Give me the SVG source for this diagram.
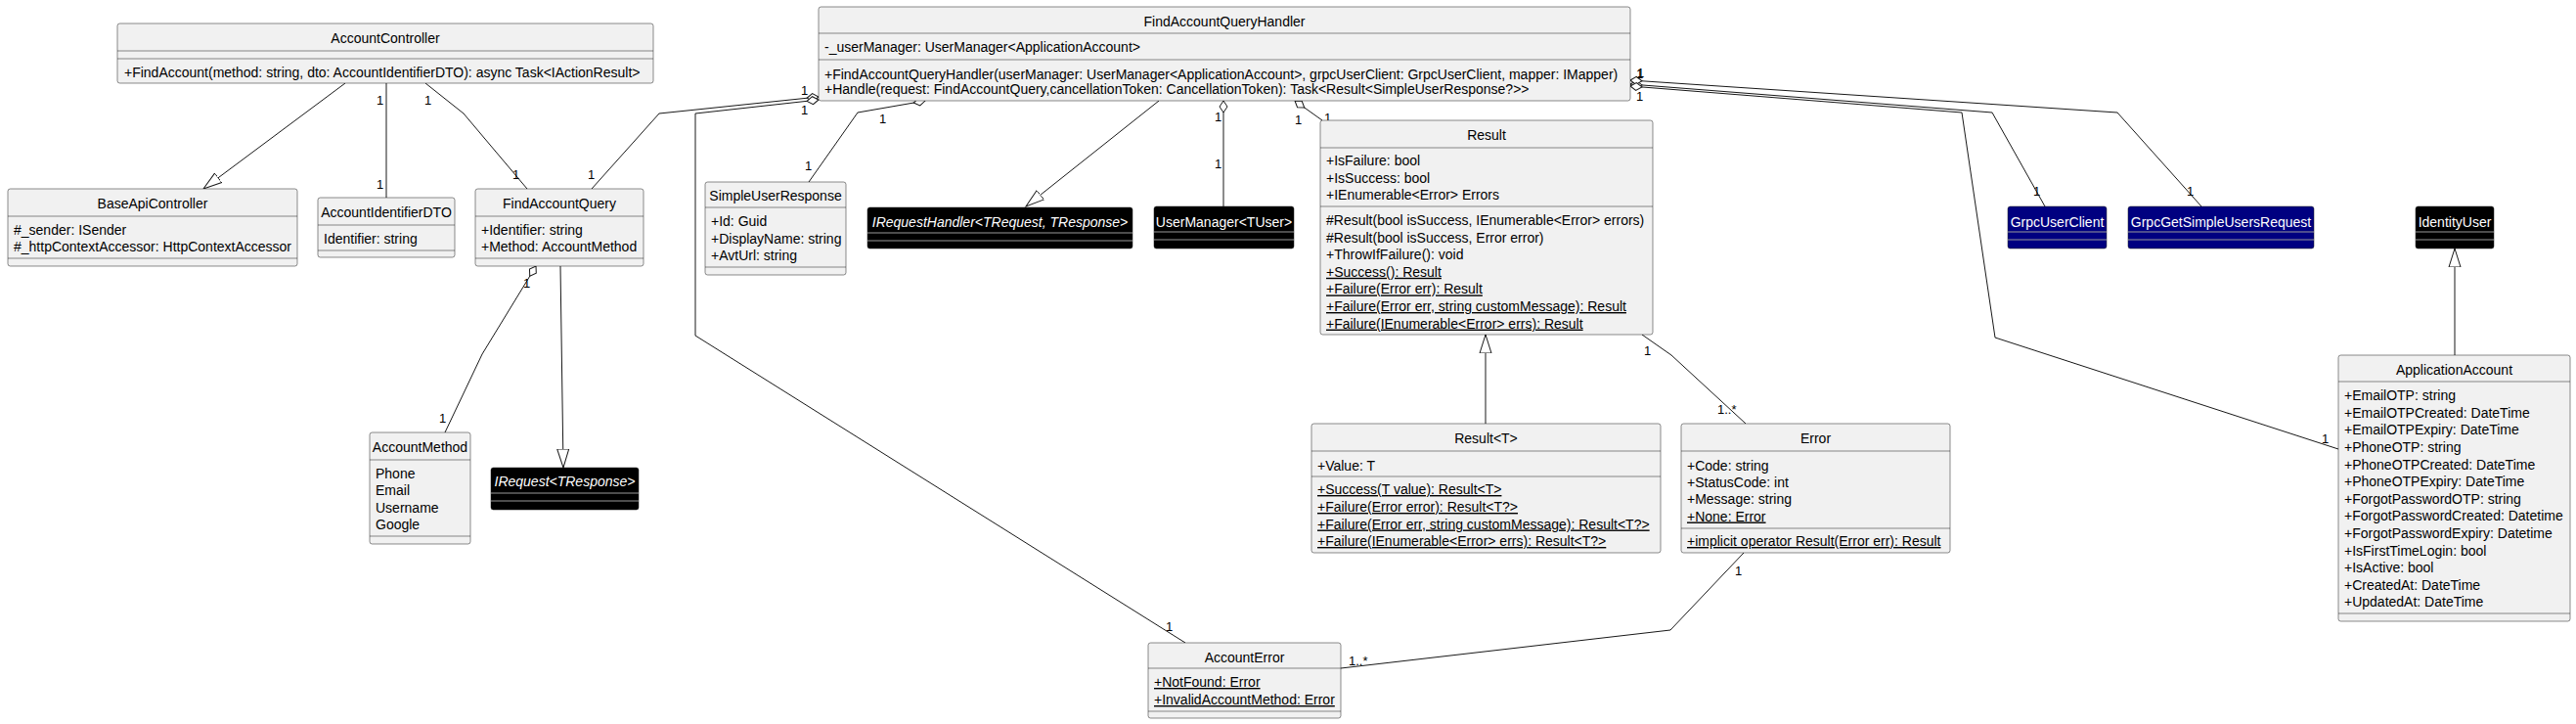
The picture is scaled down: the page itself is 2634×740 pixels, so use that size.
<svg xmlns="http://www.w3.org/2000/svg" width="2634" height="740" viewBox="0 0 2634 740">
<style>
text{font-family:"Liberation Sans",Arial,sans-serif;font-size:14px;fill:#000000}
.t{text-anchor:middle}
.w{fill:#FFFFFF}
.i{font-style:italic}
.u{text-decoration:underline}
.lb{font-size:13px}
.box{fill:#F1F1F1;stroke:#181818;stroke-width:0.5}
.dk{fill:#000000;stroke:#181818;stroke-width:0.5}
.bl{fill:#000080;stroke:#181818;stroke-width:0.5}
.sep{stroke:#181818;stroke-width:0.5}
.sepd{stroke:#999999;stroke-width:1}
.c{fill:none;stroke:#181818;stroke-width:1}
</style>
<defs>
<marker id="tri" markerUnits="userSpaceOnUse" markerWidth="22" markerHeight="16" refX="19" refY="7" orient="auto" viewBox="0 0 22 16">
<path d="M0,1 L19,7 L0,13 Z" fill="#FFFFFF" stroke="#181818" stroke-width="1"/>
</marker>
<marker id="dia" markerUnits="userSpaceOnUse" markerWidth="16" markerHeight="12" refX="1" refY="6" orient="auto" viewBox="0 0 16 12">
<path d="M1,6 L7,2 L13,6 L7,10 Z" fill="#FFFFFF" stroke="#181818" stroke-width="1"/>
</marker>
</defs>
<rect width="2634" height="740" fill="#FFFFFF"/>

<g id="connectors">
<path class="c" d="M353,85 L208,193" marker-end="url(#tri)"/>
<path class="c" d="M395,85 L395,202"/>
<path class="c" d="M435,85 L474,116 L539,193"/>
<path class="c" d="M837,99 L674,116 L605,193" marker-start="url(#dia)"/>
<path class="c" d="M837,102 L711,116 L711,343 L1212,657" marker-start="url(#dia)"/>
<path class="c" d="M946,103 L877,115 L827,186" marker-start="url(#dia)"/>
<path class="c" d="M1185,103 L1049,211" marker-end="url(#tri)"/>
<path class="c" d="M1251,103 L1251,211" marker-start="url(#dia)"/>
<path class="c" d="M1324,103 L1352,123" marker-start="url(#dia)"/>
<path class="c" d="M1667,86 L2037,115 L2091,211" marker-start="url(#dia)"/>
<path class="c" d="M1667,82 L2165,115 L2251,211" marker-start="url(#dia)"/>
<path class="c" d="M1667,88 L2006,115 L2040,345 L2391,459" marker-start="url(#dia)"/>
<path class="c" d="M548,272 L493,362 L455,442" marker-start="url(#dia)"/>
<path class="c" d="M573,272 L576,478" marker-end="url(#tri)"/>
<path class="c" d="M1519,433 L1519,342" marker-end="url(#tri)"/>
<path class="c" d="M1679,342 L1709,363 L1785,433"/>
<path class="c" d="M1371,683 L1708,644 L1783,565"/>
<path class="c" d="M2510,363 L2510,254" marker-end="url(#tri)"/>
<text class="lb" x="385" y="107">1</text>
<text class="lb" x="385" y="193">1</text>
<text class="lb" x="434" y="107">1</text>
<text class="lb" x="524" y="183">1</text>
<text class="lb" x="819" y="97">1</text>
<text class="lb" x="601" y="183">1</text>
<text class="lb" x="819" y="117">1</text>
<text class="lb" x="1192" y="645">1</text>
<text class="lb" x="899" y="126">1</text>
<text class="lb" x="823" y="174">1</text>
<text class="lb" x="1242" y="124">1</text>
<text class="lb" x="1242" y="172">1</text>
<text class="lb" x="1324" y="127">1</text>
<text class="lb" x="1354" y="125">1</text>
<text class="lb" x="1673" y="80">1</text>
<text class="lb" x="1674" y="79">1</text>
<text class="lb" x="1673" y="103">1</text>
<text class="lb" x="2079" y="200">1</text>
<text class="lb" x="2236" y="200">1</text>
<text class="lb" x="2374" y="453">1</text>
<text class="lb" x="535" y="294">1</text>
<text class="lb" x="449" y="432">1</text>
<text class="lb" x="1681" y="363">1</text>
<text class="lb" x="1756" y="423">1..*</text>
<text class="lb" x="1379" y="680">1..*</text>
<text class="lb" x="1774" y="588">1</text>
</g>

<g id="AccountController">
<rect class="box" x="120" y="24" width="548" height="61" rx="2.5"/>
<text class="t" x="394" y="44">AccountController</text>
<line class="sep" x1="120" y1="52" x2="668" y2="52"/>
<line class="sep" x1="120" y1="60" x2="668" y2="60"/>
<text x="127" y="79">+FindAccount(method: string, dto: AccountIdentifierDTO): async Task&lt;IActionResult&gt;</text>
</g>

<g id="BaseApiController">
<rect class="box" x="8" y="193" width="296" height="79" rx="2.5"/>
<text class="t" x="156" y="213">BaseApiController</text>
<line class="sep" x1="8" y1="221" x2="304" y2="221"/>
<text x="14" y="240">#_sender: ISender</text>
<text x="14" y="257">#_httpContextAccessor: HttpContextAccessor</text>
<line class="sep" x1="8" y1="264" x2="304" y2="264"/>
</g>

<g id="AccountIdentifierDTO">
<rect class="box" x="325" y="202" width="140" height="61" rx="2.5"/>
<text class="t" x="395" y="222">AccountIdentifierDTO</text>
<line class="sep" x1="325" y1="230" x2="465" y2="230"/>
<text x="331" y="249">Identifier: string</text>
<line class="sep" x1="325" y1="256" x2="465" y2="256"/>
</g>

<g id="FindAccountQuery">
<rect class="box" x="486" y="193" width="172" height="79" rx="2.5"/>
<text class="t" x="572" y="213">FindAccountQuery</text>
<line class="sep" x1="486" y1="221" x2="658" y2="221"/>
<text x="492" y="240">+Identifier: string</text>
<text x="492" y="257">+Method: AccountMethod</text>
<line class="sep" x1="486" y1="264" x2="658" y2="264"/>
</g>

<g id="FindAccountQueryHandler">
<rect class="box" x="837" y="7" width="830" height="96" rx="2.5"/>
<text class="t" x="1252" y="27">FindAccountQueryHandler</text>
<line class="sep" x1="837" y1="34" x2="1667" y2="34"/>
<text x="843" y="53">-_userManager: UserManager&lt;ApplicationAccount&gt;</text>
<line class="sep" x1="837" y1="61" x2="1667" y2="61"/>
<text x="843" y="81">+FindAccountQueryHandler(userManager: UserManager&lt;ApplicationAccount&gt;, grpcUserClient: GrpcUserClient, mapper: IMapper)</text>
<text x="843" y="96">+Handle(request: FindAccountQuery,cancellationToken: CancellationToken): Task&lt;Result&lt;SimpleUserResponse?&gt;&gt;</text>
</g>

<g id="SimpleUserResponse">
<rect class="box" x="721" y="186" width="144" height="95" rx="2.5"/>
<text class="t" x="793" y="205">SimpleUserResponse</text>
<line class="sep" x1="721" y1="212" x2="865" y2="212"/>
<text x="727" y="231">+Id: Guid</text>
<text x="727" y="249">+DisplayName: string</text>
<text x="727" y="266">+AvtUrl: string</text>
<line class="sep" x1="721" y1="273" x2="865" y2="273"/>
</g>

<g id="IRequestHandler">
<rect class="dk" x="887" y="212" width="271" height="42" rx="2.5"/>
<text class="t w i" x="1022.5" y="232">IRequestHandler&lt;TRequest, TResponse&gt;</text>
<line class="sepd" x1="887" y1="238" x2="1158" y2="238"/>
<line class="sepd" x1="887" y1="246" x2="1158" y2="246"/>
</g>

<g id="UserManager">
<rect class="dk" x="1180" y="211" width="143" height="43" rx="2.5"/>
<text class="t w" x="1251.5" y="232">UserManager&lt;TUser&gt;</text>
<line class="sepd" x1="1180" y1="237" x2="1323" y2="237"/>
<line class="sepd" x1="1180" y1="245" x2="1323" y2="245"/>
</g>

<g id="Result">
<rect class="box" x="1350" y="123" width="340" height="219" rx="2.5"/>
<text class="t" x="1520" y="143">Result</text>
<line class="sep" x1="1350" y1="151" x2="1690" y2="151"/>
<text x="1356" y="169">+IsFailure: bool</text>
<text x="1356" y="186.5">+IsSuccess: bool</text>
<text x="1356" y="204">+IEnumerable&lt;Error&gt; Errors</text>
<line class="sep" x1="1350" y1="211" x2="1690" y2="211"/>
<text x="1356" y="230">#Result(bool isSuccess, IEnumerable&lt;Error&gt; errors)</text>
<text x="1356" y="247.6">#Result(bool isSuccess, Error error)</text>
<text x="1356" y="265.2">+ThrowIfFailure(): void</text>
<text class="u" x="1356" y="282.8">+Success(): Result</text>
<text class="u" x="1356" y="300.4">+Failure(Error err): Result</text>
<text class="u" x="1356" y="318">+Failure(Error err, string customMessage): Result</text>
<text class="u" x="1356" y="335.6">+Failure(IEnumerable&lt;Error&gt; errs): Result</text>
</g>

<g id="ResultT">
<rect class="box" x="1341" y="433" width="357" height="132" rx="2.5"/>
<text class="t" x="1519.5" y="453">Result&lt;T&gt;</text>
<line class="sep" x1="1341" y1="461" x2="1698" y2="461"/>
<text x="1347" y="481">+Value: T</text>
<line class="sep" x1="1341" y1="487" x2="1698" y2="487"/>
<text class="u" x="1347" y="505">+Success(T value): Result&lt;T&gt;</text>
<text class="u" x="1347" y="523">+Failure(Error error): Result&lt;T?&gt;</text>
<text class="u" x="1347" y="540.5">+Failure(Error err, string customMessage): Result&lt;T?&gt;</text>
<text class="u" x="1347" y="558">+Failure(IEnumerable&lt;Error&gt; errs): Result&lt;T?&gt;</text>
</g>

<g id="Error">
<rect class="box" x="1719" y="433" width="275" height="132" rx="2.5"/>
<text class="t" x="1856.5" y="453">Error</text>
<line class="sep" x1="1719" y1="461" x2="1994" y2="461"/>
<text x="1725" y="481">+Code: string</text>
<text x="1725" y="497.5">+StatusCode: int</text>
<text x="1725" y="515">+Message: string</text>
<text class="u" x="1725" y="532.5">+None: Error</text>
<line class="sep" x1="1719" y1="540" x2="1994" y2="540"/>
<text class="u" x="1725" y="558">+implicit operator Result(Error err): Result</text>
</g>

<g id="AccountMethod">
<rect class="box" x="378" y="442" width="103" height="114" rx="2.5"/>
<text class="t" x="429.5" y="462">AccountMethod</text>
<line class="sep" x1="378" y1="470" x2="481" y2="470"/>
<text x="384" y="489">Phone</text>
<text x="384" y="506">Email</text>
<text x="384" y="524">Username</text>
<text x="384" y="541">Google</text>
<line class="sep" x1="378" y1="548" x2="481" y2="548"/>
</g>

<g id="IRequest">
<rect class="dk" x="502" y="478" width="151" height="43" rx="2.5"/>
<text class="t w i" x="577.5" y="497">IRequest&lt;TResponse&gt;</text>
<line class="sepd" x1="502" y1="504" x2="653" y2="504"/>
<line class="sepd" x1="502" y1="512" x2="653" y2="512"/>
</g>

<g id="AccountError">
<rect class="box" x="1174" y="657" width="197" height="77" rx="2.5"/>
<text class="t" x="1272.5" y="677">AccountError</text>
<line class="sep" x1="1174" y1="683" x2="1371" y2="683"/>
<text class="u" x="1180" y="702">+NotFound: Error</text>
<text class="u" x="1180" y="720">+InvalidAccountMethod: Error</text>
<line class="sep" x1="1174" y1="727" x2="1371" y2="727"/>
</g>

<g id="GrpcUserClient">
<rect class="bl" x="2053" y="211" width="101" height="43" rx="2.5"/>
<text class="t w" x="2103.5" y="232">GrpcUserClient</text>
<line class="sepd" x1="2053" y1="237" x2="2154" y2="237"/>
<line class="sepd" x1="2053" y1="245" x2="2154" y2="245"/>
</g>

<g id="GrpcGetSimpleUsersRequest">
<rect class="bl" x="2176" y="211" width="190" height="43" rx="2.5"/>
<text class="t w" x="2271" y="232">GrpcGetSimpleUsersRequest</text>
<line class="sepd" x1="2176" y1="237" x2="2366" y2="237"/>
<line class="sepd" x1="2176" y1="245" x2="2366" y2="245"/>
</g>

<g id="IdentityUser">
<rect class="dk" x="2470" y="211" width="80" height="43" rx="2.5"/>
<text class="t w" x="2510" y="232">IdentityUser</text>
<line class="sepd" x1="2470" y1="237" x2="2550" y2="237"/>
<line class="sepd" x1="2470" y1="245" x2="2550" y2="245"/>
</g>

<g id="ApplicationAccount">
<rect class="box" x="2391" y="363" width="237" height="272" rx="2.5"/>
<text class="t" x="2509.5" y="383">ApplicationAccount</text>
<line class="sep" x1="2391" y1="390" x2="2628" y2="390"/>
<text x="2397" y="409">+EmailOTP: string</text>
<text x="2397" y="427">+EmailOTPCreated: DateTime</text>
<text x="2397" y="444">+EmailOTPExpiry: DateTime</text>
<text x="2397" y="462">+PhoneOTP: string</text>
<text x="2397" y="480">+PhoneOTPCreated: DateTime</text>
<text x="2397" y="497">+PhoneOTPExpiry: DateTime</text>
<text x="2397" y="515">+ForgotPasswordOTP: string</text>
<text x="2397" y="532">+ForgotPasswordCreated: Datetime</text>
<text x="2397" y="550">+ForgotPasswordExpiry: Datetime</text>
<text x="2397" y="568">+IsFirstTimeLogin: bool</text>
<text x="2397" y="585">+IsActive: bool</text>
<text x="2397" y="603">+CreatedAt: DateTime</text>
<text x="2397" y="620">+UpdatedAt: DateTime</text>
<line class="sep" x1="2391" y1="627" x2="2628" y2="627"/>
</g>
</svg>
